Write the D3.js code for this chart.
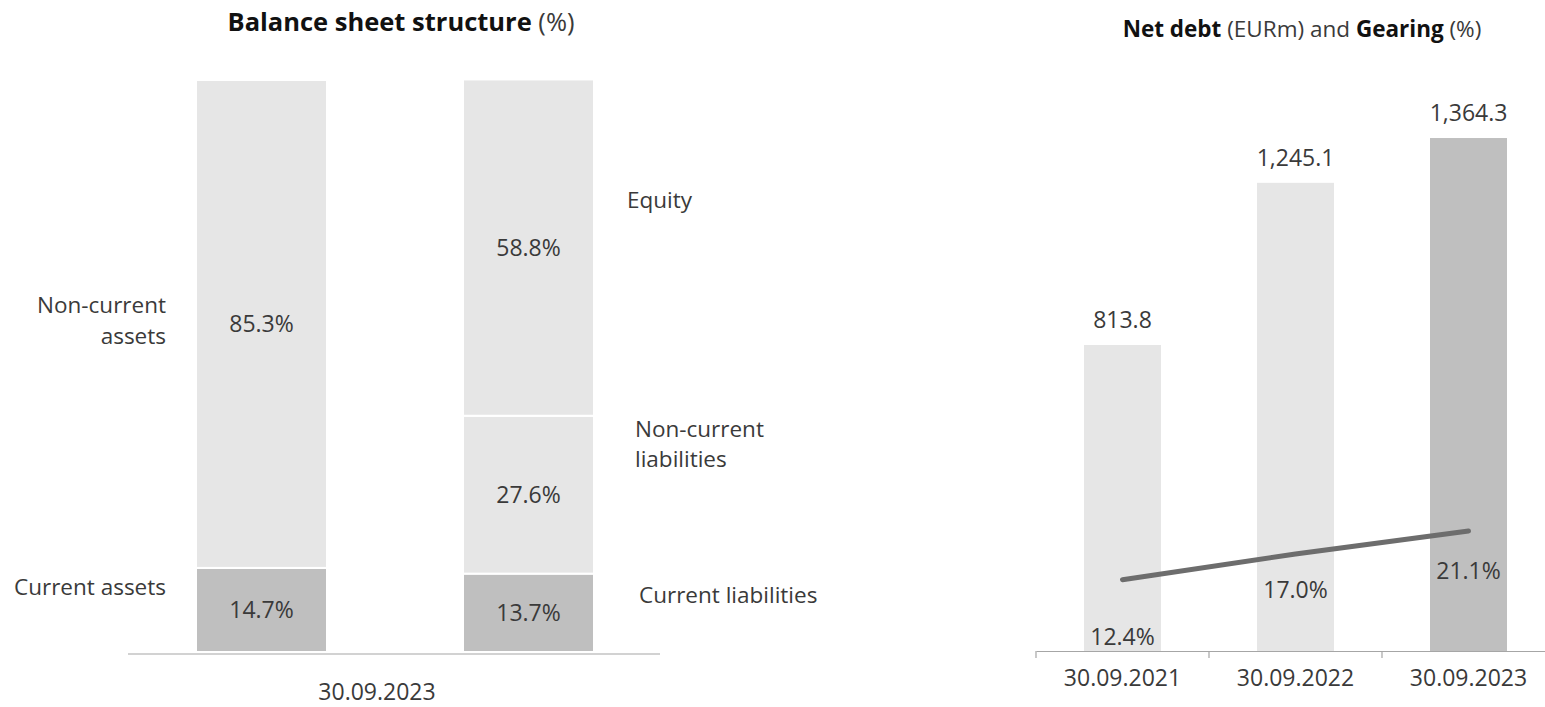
<!DOCTYPE html>
<html>
<head>
<meta charset="utf-8">
<script src="https://cdn.jsdelivr.net/npm/d3@7"></script>
<style>
  body { margin: 0; background: #fff; }
  svg text { font-family: "Open Sans", "Noto Sans", sans-serif; fill: #3a3a3a; }
</style>
</head>
<body>
<svg id="chart" width="1545" height="707"></svg>
<script>
// balance sheet structure (%)
const bsCategory = ['30.09.2023'];
const assetNames = ['Current assets', 'Non-current assets'];
const assetValues = [14.7, 85.3];
const liabNames = ['Current liabilities', 'Non-current liabilities', 'Equity'];
const liabValues = [13.7, 27.6, 58.8];

// net debt (EURm) and gearing (%)
const ndCategories = ['30.09.2021', '30.09.2022', '30.09.2023'];
const netDebt = [813.8, 1245.1, 1364.3];
const gearing = [12.4, 17.0, 21.1];

const svg = d3.select('#chart');
const light = '#e6e6e6', dark = '#bfbfbf', axisCol = '#a6a6a6';

// ---------- left chart ----------
const baseL = 652;
const yL = d3.scaleLinear().domain([0, 100]).range([baseL, 80]);

function stack(values) {
    let acc = 0;
    return values.map(v => { const s = acc; acc += v; return { y0: s, y1: acc, v }; });
}

const columns = [
    { x: 196, segs: stack(assetValues) },
    { x: 463, segs: stack(liabValues) }
];
const colW = 131;

columns.forEach(col => {
    const g = svg.append('g');
    g.selectAll('rect').data(col.segs).enter().append('rect')
        .attr('x', col.x)
        .attr('y', d => yL(d.y1))
        .attr('width', colW)
        .attr('height', d => yL(d.y0) - yL(d.y1))
        .attr('fill', (d, i) => i === 0 ? dark : light)
        .attr('stroke', '#fff')
        .attr('stroke-width', 2);
    g.selectAll('text.val').data(col.segs).enter().append('text')
        .attr('class', 'val')
        .attr('x', col.x + colW / 2)
        .attr('y', d => yL((d.y0 + d.y1) / 2) + 8.5)
        .attr('text-anchor', 'middle')
        .attr('font-size', 23)
        .text(d => d.v.toFixed(1) + '%');
});

// helper for the wrapped side labels
function wrapped(sel, x, lineH) {
    sel.each(function(d) {
        const parts = d.startsWith('Non-current') ? ['Non-current', d.replace('Non-current ', '')] : [d];
        d3.select(this).selectAll('tspan').data(parts).enter().append('tspan')
            .attr('x', x).attr('dy', (p, j) => j === 0 ? 0 : lineH).text(p => p);
    });
}

const leftLabelY = [595, 313];
svg.selectAll('text.al').data(assetNames).enter().append('text')
    .attr('class', 'al')
    .attr('x', 166)
    .attr('y', (d, i) => leftLabelY[i])
    .attr('text-anchor', 'end')
    .attr('font-size', 22.5)
    .call(wrapped, 166, 31);

const rightLabel = [[639, 603], [635, 437], [627, 208]];
rightLabel.forEach((p, i) => {
    svg.append('text').datum(liabNames[i])
        .attr('x', p[0]).attr('y', p[1])
        .attr('font-size', 22.5)
        .call(wrapped, p[0], 30);
});

svg.append('line')
    .attr('x1', 128).attr('x2', 660).attr('y1', baseL + 2).attr('y2', baseL + 2)
    .attr('stroke', axisCol).attr('stroke-width', 1.2);

svg.append('text')
    .attr('x', 377).attr('y', 700)
    .attr('text-anchor', 'middle').attr('font-size', 23)
    .text(bsCategory[0]);

const t1 = svg.append('text').attr('x', 401).attr('y', 31).attr('text-anchor', 'middle').attr('font-size', 25.5);
t1.append('tspan').attr('font-weight', 700).style('fill', '#111').text('Balance sheet structure');
t1.append('tspan').text(' (%)');

// ---------- right chart ----------
const base = 651;
const x = d3.scaleBand().domain(ndCategories).range([1036, 1555]).paddingInner(0).paddingOuter(0);
const yR = d3.scaleLinear().domain([0, 1500]).range([base, base - 564]);
const yG = d3.scaleLinear().domain([0, 100]).range([649, 90]);
const barW = 77;

const gR = svg.append('g');
gR.selectAll('rect').data(netDebt).enter().append('rect')
    .attr('x', (d, i) => x(ndCategories[i]) + x.bandwidth() / 2 - barW / 2)
    .attr('y', d => yR(d))
    .attr('width', barW)
    .attr('height', d => base - yR(d))
    .attr('fill', (d, i) => i === netDebt.length - 1 ? dark : light);

gR.selectAll('text.nd').data(netDebt).enter().append('text')
    .attr('class', 'nd')
    .attr('x', (d, i) => x(ndCategories[i]) + x.bandwidth() / 2)
    .attr('y', d => yR(d) - 17)
    .attr('text-anchor', 'middle')
    .attr('font-size', 23)
    .text(d => d3.format(',.1f')(d));

const line = d3.line()
    .x((d, i) => x(ndCategories[i]) + x.bandwidth() / 2)
    .y(d => yG(d));
gR.append('path').datum(gearing)
    .attr('d', line)
    .attr('fill', 'none')
    .attr('stroke', '#6d6d6d')
    .attr('stroke-width', 5)
    .attr('stroke-linecap', 'round');

const gearDy = [65, 44, 48];
gR.selectAll('text.gr').data(gearing).enter().append('text')
    .attr('class', 'gr')
    .attr('x', (d, i) => x(ndCategories[i]) + x.bandwidth() / 2)
    .attr('y', (d, i) => yG(d) + gearDy[i])
    .attr('text-anchor', 'middle')
    .attr('font-size', 23)
    .text(d => d.toFixed(1) + '%');

const axis = svg.append('g').attr('transform', `translate(0,${base})`)
    .call(d3.axisBottom(x).tickSize(0).tickPadding(0));
axis.select('.domain').attr('stroke', axisCol).attr('stroke-width', 1.2);
axis.selectAll('.tick text').attr('dy', null).attr('y', 35)
    .attr('font-size', 23).attr('font-family', null).attr('fill', null);
// boundary ticks between categories
axis.selectAll('line.sep').data(ndCategories).enter().append('line')
    .attr('class', 'sep')
    .attr('x1', d => x(d)).attr('x2', d => x(d))
    .attr('y1', 0).attr('y2', 7)
    .attr('stroke', axisCol).attr('stroke-width', 1.2);

const t2 = svg.append('text').attr('x', 1302).attr('y', 37).attr('text-anchor', 'middle').attr('font-size', 22.5);
t2.append('tspan').attr('font-weight', 700).style('fill', '#111').text('Net debt');
t2.append('tspan').text(' (EURm) and ');
t2.append('tspan').attr('font-weight', 700).style('fill', '#111').text('Gearing');
t2.append('tspan').text(' (%)');
</script>
</body>
</html>
